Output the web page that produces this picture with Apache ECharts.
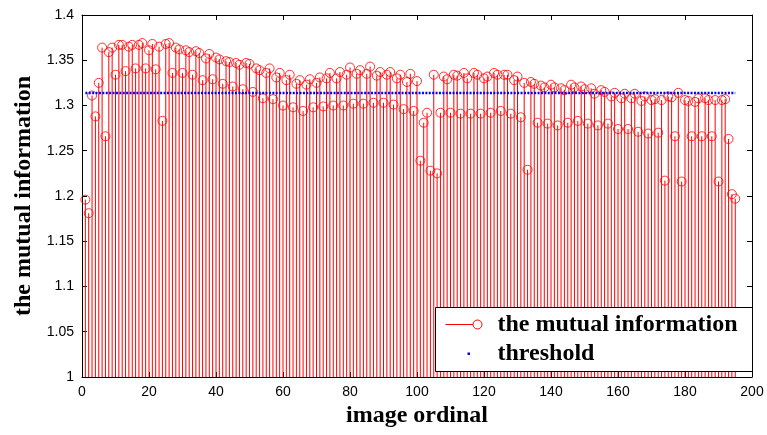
<!DOCTYPE html>
<html>
<head>
<meta charset="utf-8">
<script src="https://cdn.jsdelivr.net/npm/echarts@6/dist/echarts.min.js"></script>
<style>
  html, body { margin: 0; padding: 0; background: #fff; }
  #main { width: 767px; height: 435px; }
</style>
</head>
<body>
<div id="main"></div>
<script type="text/javascript">
// mutual information of each image, image ordinal 1..195
var mutualInfo = [
  1.196, 1.181, 1.311, 1.288, 1.325, 1.364, 1.266, 1.359, 1.364, 1.334,
  1.367, 1.367, 1.338, 1.365, 1.367, 1.341, 1.367, 1.369, 1.341, 1.361,
  1.368, 1.340, 1.365, 1.283, 1.368, 1.369, 1.336, 1.364, 1.362, 1.336,
  1.361, 1.359, 1.334, 1.360, 1.358, 1.328, 1.352, 1.357, 1.329, 1.353,
  1.351, 1.324, 1.349, 1.348, 1.321, 1.347, 1.345, 1.318, 1.347, 1.346,
  1.315, 1.341, 1.339, 1.308, 1.336, 1.341, 1.307, 1.331, 1.336, 1.300,
  1.328, 1.334, 1.298, 1.324, 1.328, 1.294, 1.323, 1.329, 1.298, 1.325,
  1.331, 1.299, 1.330, 1.336, 1.300, 1.330, 1.337, 1.300, 1.334, 1.342,
  1.302, 1.335, 1.339, 1.302, 1.335, 1.343, 1.303, 1.333, 1.337, 1.303,
  1.334, 1.337, 1.301, 1.330, 1.334, 1.296, 1.326, 1.335, 1.294, 1.327,
  1.239, 1.281, 1.292, 1.228, 1.334, 1.225, 1.292, 1.332, 1.329, 1.292,
  1.334, 1.333, 1.291, 1.336, 1.330, 1.291, 1.336, 1.334, 1.291, 1.330,
  1.332, 1.292, 1.336, 1.334, 1.294, 1.334, 1.334, 1.291, 1.328, 1.332,
  1.287, 1.325, 1.229, 1.326, 1.324, 1.281, 1.322, 1.320, 1.280, 1.323,
  1.320, 1.278, 1.319, 1.317, 1.281, 1.323, 1.320, 1.283, 1.321, 1.318,
  1.280, 1.319, 1.313, 1.278, 1.317, 1.315, 1.280, 1.310, 1.314, 1.274,
  1.308, 1.313, 1.274, 1.308, 1.313, 1.271, 1.305, 1.310, 1.269, 1.306,
  1.307, 1.270, 1.306, 1.217, 1.310, 1.309, 1.266, 1.314, 1.216, 1.306,
  1.305, 1.266, 1.304, 1.308, 1.266, 1.308, 1.306, 1.266, 1.306, 1.216,
  1.306, 1.307, 1.263, 1.202, 1.197
];
var thresholdValue = 1.3138;
var thresholdRange = [1, 195];

var xMin = 0, xMax = 200, xStep = 20;
var yMin = 1, yMax = 1.4, yStep = 0.05;

var points = mutualInfo.map(function (v, i) { return [i + 1, v]; });
var thresholdLine = thresholdRange.map(function (x) { return [x, thresholdValue]; });

var dom = document.getElementById('main');
var myChart = echarts.init(dom, null, { renderer: 'canvas' });

var tickFont = { color: '#000', fontFamily: 'Liberation Sans', fontSize: 14 };
var titleFont = { color: '#000', fontFamily: 'Liberation Serif', fontWeight: 'bold', fontSize: 24 };
var axisLine = { show: true, onZero: false, lineStyle: { color: '#000', width: 1 } };
var tickIn = { show: true, inside: true, length: 5, lineStyle: { color: '#000' } };
var legendFont = 'bold 24px "Liberation Serif"';

var option = {
  animation: false,
  backgroundColor: '#fff',
  grid: { left: 82, right: 15, top: 15, bottom: 58, show: false },
  xAxis: [{
    type: 'value', min: xMin, max: xMax, interval: xStep, position: 'bottom',
    axisLine: axisLine, axisTick: tickIn,
    axisLabel: Object.assign({ margin: 8 }, tickFont),
    splitLine: { show: false },
    name: 'image ordinal', nameLocation: 'middle', nameGap: 26, nameTextStyle: titleFont
  }, {
    type: 'value', min: xMin, max: xMax, interval: xStep, position: 'top',
    axisLine: axisLine, axisTick: tickIn, axisLabel: { show: false }, splitLine: { show: false }
  }],
  yAxis: [{
    type: 'value', min: yMin, max: yMax, interval: yStep, position: 'left',
    axisLine: axisLine, axisTick: tickIn,
    axisLabel: Object.assign({ margin: 8 }, tickFont),
    splitLine: { show: false },
    name: 'the mutual information', nameLocation: 'middle', nameGap: 46, nameTextStyle: titleFont
  }, {
    type: 'value', min: yMin, max: yMax, interval: yStep, position: 'right',
    axisLine: axisLine, axisTick: tickIn, axisLabel: { show: false }, splitLine: { show: false }
  }],
  series: [{
    name: 'stems',
    type: 'custom',
    clip: true,
    data: points,
    renderItem: function (params, api) {
      var top = api.coord([api.value(0), api.value(1)]);
      var base = api.coord([api.value(0), yMin]);
      return {
        type: 'line',
        shape: { x1: top[0], y1: top[1], x2: base[0], y2: base[1] },
        style: { stroke: '#ff0000', lineWidth: 1 }
      };
    },
    z: 2
  }, {
    name: 'the mutual information',
    type: 'scatter',
    data: points,
    symbol: 'circle',
    symbolSize: 9,
    itemStyle: { color: 'rgba(0,0,0,0)', borderColor: '#ff0000', borderWidth: 1 },
    z: 3
  }, {
    name: 'threshold',
    type: 'line',
    data: thresholdLine,
    symbol: 'none',
    lineStyle: { color: '#0000ff', width: 2.5, type: [2, 1.4] },
    z: 4
  }],
  graphic: [{
    type: 'group', left: 435, top: 307,
    children: [
      { type: 'rect', z: 100, shape: { x: 0, y: 0, width: 317, height: 64 },
        style: { fill: '#fff', stroke: '#000', lineWidth: 1 } },
      { type: 'line', z: 101, shape: { x1: 10, y1: 17, x2: 42, y2: 17 },
        style: { stroke: '#ff0000', lineWidth: 1 } },
      { type: 'circle', z: 101, shape: { cx: 42, cy: 17, r: 4.5 },
        style: { fill: '#fff', stroke: '#ff0000', lineWidth: 1 } },
      { type: 'text', z: 101, x: 62, y: 17,
        style: { text: 'the mutual information', fill: '#000', font: legendFont, verticalAlign: 'middle' } },
      { type: 'rect', z: 101, shape: { x: 32, y: 45, width: 2.5, height: 2.5 },
        style: { fill: '#0000ff' } },
      { type: 'text', z: 101, x: 62, y: 46,
        style: { text: 'threshold', fill: '#000', font: legendFont, verticalAlign: 'middle' } }
    ]
  }]
};

myChart.setOption(option);
</script>
</body>
</html>
